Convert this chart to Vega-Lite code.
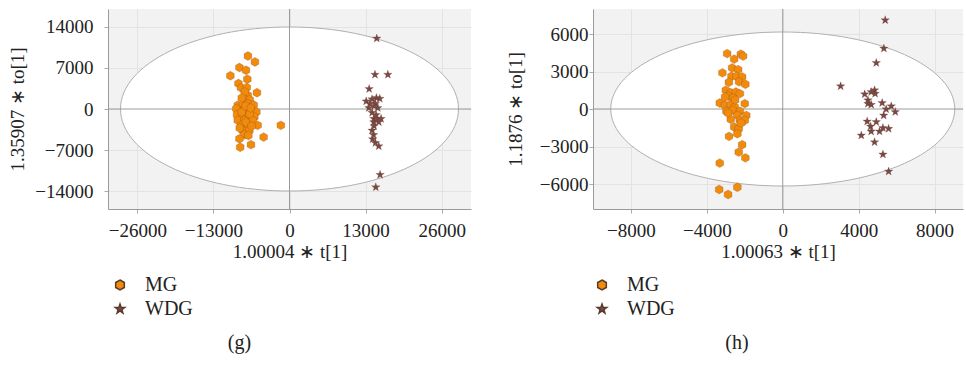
{
  "$schema": "https://vega.github.io/schema/vega-lite/v6.json",
  "padding": 8,
  "config": {
    "font": "Liberation Serif",
    "view": {"stroke": null, "fill": "#f2f2f2"},
    "axis": {"labelFont": "Liberation Serif", "titleFont": "Liberation Serif", "labelFontSize": 19, "titleFontSize": 19, "titleFontWeight": "normal", "labelColor": "#222222", "titleColor": "#222222", "domainColor": "#9a9a9a", "tickColor": "#aaaaaa", "tickSize": 4, "gridColor": "#e3e3e3", "zindex": 1},
    "legend": {"labelFont": "Liberation Serif", "labelFontSize": 20, "labelColor": "#222222", "symbolSize": 100, "rowPadding": 4, "labelOffset": 15},
    "title": {"font": "Liberation Serif", "fontSize": 20, "fontWeight": "normal", "color": "#222222"},
    "concat": {"spacing": 34}
  },
  "hconcat": [
    {
      "width": 363,
      "height": 200,
      "title": {"text": "(g)", "orient": "bottom", "anchor": "middle", "dx": -50, "offset": 14},
      "layer": [
        {
          "data": {"values": [{"t": 0, "to": 0}]},
          "mark": {"type": "point", "shape": "M-1,0C-1,-0.268,-0.552,-0.4852,0,-0.4852C0.552,-0.4852,1,-0.268,1,0C1,0.268,0.552,0.4852,0,0.4852C-0.552,0.4852,-1,0.268,-1,0Z", "size": 114244, "filled": true, "fill": "#ffffff", "stroke": "#b0b0b0", "strokeWidth": 1, "opacity": 1},
          "encoding": {
            "x": {"field": "t", "type": "quantitative", "scale": {"domain": [-31000, 31000], "nice": false, "zero": false}},
            "y": {"field": "to", "type": "quantitative", "scale": {"domain": [-17000, 17000], "nice": false, "zero": false}}
          }
        },
        {
          "data": {"values": [{"t": 0}]},
          "mark": {"type": "rule", "color": "#9a9a9a", "strokeWidth": 1},
          "encoding": {"x": {"field": "t", "type": "quantitative", "scale": {"domain": [-31000, 31000], "nice": false, "zero": false}}}
        },
        {
          "data": {"values": [{"to": 0}]},
          "mark": {"type": "rule", "color": "#9a9a9a", "strokeWidth": 1},
          "encoding": {"y": {"field": "to", "type": "quantitative", "scale": {"domain": [-17000, 17000], "nice": false, "zero": false}}}
        },
        {
          "data": {"values": [
            {"group": "MG", "t": -7100, "to": 9000},
            {"group": "MG", "t": -5900, "to": 8000},
            {"group": "MG", "t": -10100, "to": 5650},
            {"group": "MG", "t": -8550, "to": 7050},
            {"group": "MG", "t": -7430, "to": 6600},
            {"group": "MG", "t": -7200, "to": 5070},
            {"group": "MG", "t": -8720, "to": 4320},
            {"group": "MG", "t": -8280, "to": 3600},
            {"group": "MG", "t": -7300, "to": 3670},
            {"group": "MG", "t": -5560, "to": 2770},
            {"group": "MG", "t": -7140, "to": 2340},
            {"group": "MG", "t": -7700, "to": 1700},
            {"group": "MG", "t": -6800, "to": 1570},
            {"group": "MG", "t": -8840, "to": 630},
            {"group": "MG", "t": -7990, "to": 730},
            {"group": "MG", "t": -7140, "to": 900},
            {"group": "MG", "t": -6120, "to": 680},
            {"group": "MG", "t": -8550, "to": -220},
            {"group": "MG", "t": -7700, "to": -50},
            {"group": "MG", "t": -6580, "to": -220},
            {"group": "MG", "t": -5660, "to": -510},
            {"group": "MG", "t": -9100, "to": 50},
            {"group": "MG", "t": -8960, "to": -970},
            {"group": "MG", "t": -7990, "to": -1080},
            {"group": "MG", "t": -7020, "to": -1080},
            {"group": "MG", "t": -6000, "to": -1370},
            {"group": "MG", "t": -8840, "to": -1930},
            {"group": "MG", "t": -7700, "to": -1930},
            {"group": "MG", "t": -6290, "to": -1930},
            {"group": "MG", "t": -8280, "to": -2780},
            {"group": "MG", "t": -7140, "to": -2780},
            {"group": "MG", "t": -5440, "to": -2780},
            {"group": "MG", "t": -7990, "to": -3640},
            {"group": "MG", "t": -6850, "to": -3640},
            {"group": "MG", "t": -7700, "to": -4390},
            {"group": "MG", "t": -7020, "to": -4490},
            {"group": "MG", "t": -8550, "to": -5070},
            {"group": "MG", "t": -4420, "to": -4780},
            {"group": "MG", "t": -6580, "to": -6060},
            {"group": "MG", "t": -8420, "to": -6490},
            {"group": "MG", "t": -1480, "to": -2780},
            {"group": "MG", "t": -8160, "to": -510},
            {"group": "MG", "t": -7480, "to": 510},
            {"group": "MG", "t": -6800, "to": -850},
            {"group": "MG", "t": -8500, "to": -3240},
            {"group": "MG", "t": -7480, "to": -2220},
            {"group": "MG", "t": -6630, "to": 170},
            {"group": "MG", "t": -7650, "to": 2900},
            {"group": "MG", "t": -8160, "to": 1880},
            {"group": "MG", "t": -6460, "to": -2900},
            {"group": "WDG", "t": 14900, "to": 12000},
            {"group": "WDG", "t": 14600, "to": 5850},
            {"group": "WDG", "t": 16800, "to": 5850},
            {"group": "WDG", "t": 13600, "to": 3400},
            {"group": "WDG", "t": 13100, "to": 1310},
            {"group": "WDG", "t": 14100, "to": 1660},
            {"group": "WDG", "t": 14840, "to": 1880},
            {"group": "WDG", "t": 15420, "to": 1760},
            {"group": "WDG", "t": 13720, "to": 900},
            {"group": "WDG", "t": 14670, "to": 900},
            {"group": "WDG", "t": 13550, "to": 170},
            {"group": "WDG", "t": 15080, "to": 170},
            {"group": "WDG", "t": 14110, "to": -630},
            {"group": "WDG", "t": 14400, "to": -1660},
            {"group": "WDG", "t": 14960, "to": -1660},
            {"group": "WDG", "t": 15640, "to": -1660},
            {"group": "WDG", "t": 14400, "to": -2220},
            {"group": "WDG", "t": 15250, "to": -2220},
            {"group": "WDG", "t": 14110, "to": -3640},
            {"group": "WDG", "t": 14360, "to": -4390},
            {"group": "WDG", "t": 14200, "to": -5120},
            {"group": "WDG", "t": 14670, "to": -5750},
            {"group": "WDG", "t": 15250, "to": -6320},
            {"group": "WDG", "t": 15470, "to": -11180},
            {"group": "WDG", "t": 14740, "to": -13300},
            {"group": "WDG", "t": 14450, "to": 510},
            {"group": "WDG", "t": 14790, "to": -1020},
            {"group": "WDG", "t": 14450, "to": -2900}
          ]},
          "mark": {"type": "point", "filled": true, "size": 80, "opacity": 1, "stroke": "#5a3a2a", "strokeOpacity": 0.35, "strokeWidth": 0.6},
          "encoding": {
            "x": {"field": "t", "type": "quantitative", "title": "1.00004 ∗ t[1]",
              "scale": {"domain": [-31000, 31000], "nice": false, "zero": false},
              "axis": {"values": [-26000, -13000, 0, 13000, 26000], "format": "d", "labelPadding": 8, "titlePadding": 2}},
            "y": {"field": "to", "type": "quantitative", "title": "1.35907 ∗ to[1]",
              "scale": {"domain": [-17000, 17000], "nice": false, "zero": false},
              "axis": {"values": [-14000, -7000, 0, 7000, 14000], "format": "d", "labelPadding": 11, "titlePadding": 7}},
            "color": {"field": "group", "type": "nominal",
              "scale": {"domain": ["MG", "WDG"], "range": ["#f28a0c", "#7b4943"]},
              "legend": {"orient": "none", "legendX": 2, "legendY": 266, "direction": "vertical", "title": null}},
            "shape": {"field": "group", "type": "nominal",
              "scale": {"domain": ["MG", "WDG"], "range": ["M0,-1L0.866,-0.5L0.866,0.5L0,1L-0.866,0.5L-0.866,-0.5Z", "M0,-1L0.235,-0.324L0.951,-0.309L0.38,0.124L0.588,0.809L0,0.4L-0.588,0.809L-0.38,0.124L-0.951,-0.309L-0.235,-0.324Z"]},
              "legend": {"orient": "none", "legendX": 2, "legendY": 266, "direction": "vertical", "title": null}}
          }
        }
      ]
    },
    {
      "width": 370,
      "height": 200,
      "title": {"text": "(h)", "orient": "bottom", "anchor": "middle", "dx": -41, "offset": 14},
      "layer": [
        {
          "data": {"values": [{"t": 0, "to": 0}]},
          "mark": {"type": "point", "shape": "M-1,0C-1,-0.2473,-0.552,-0.4477,0,-0.4477C0.552,-0.4477,1,-0.2473,1,0C1,0.2473,0.552,0.4477,0,0.4477C-0.552,0.4477,-1,0.2473,-1,0Z", "size": 118336, "filled": true, "fill": "#ffffff", "stroke": "#b0b0b0", "strokeWidth": 1, "opacity": 1},
          "encoding": {
            "x": {"field": "t", "type": "quantitative", "scale": {"domain": [-10000, 9500], "nice": false, "zero": false}},
            "y": {"field": "to", "type": "quantitative", "scale": {"domain": [-8000, 8000], "nice": false, "zero": false}}
          }
        },
        {
          "data": {"values": [{"t": 0}]},
          "mark": {"type": "rule", "color": "#9a9a9a", "strokeWidth": 1},
          "encoding": {"x": {"field": "t", "type": "quantitative", "scale": {"domain": [-10000, 9500], "nice": false, "zero": false}}}
        },
        {
          "data": {"values": [{"to": 0}]},
          "mark": {"type": "rule", "color": "#9a9a9a", "strokeWidth": 1},
          "encoding": {"y": {"field": "to", "type": "quantitative", "scale": {"domain": [-8000, 8000], "nice": false, "zero": false}}}
        },
        {
          "data": {"values": [
            {"group": "MG", "t": -2930, "to": 4430},
            {"group": "MG", "t": -2560, "to": 3990},
            {"group": "MG", "t": -2210, "to": 4390},
            {"group": "MG", "t": -2090, "to": 4230},
            {"group": "MG", "t": -2670, "to": 3290},
            {"group": "MG", "t": -2350, "to": 3150},
            {"group": "MG", "t": -3180, "to": 2890},
            {"group": "MG", "t": -2700, "to": 2620},
            {"group": "MG", "t": -2440, "to": 2620},
            {"group": "MG", "t": -2140, "to": 2570},
            {"group": "MG", "t": -2840, "to": 2140},
            {"group": "MG", "t": -2300, "to": 2170},
            {"group": "MG", "t": -1970, "to": 1980},
            {"group": "MG", "t": -3000, "to": 1500},
            {"group": "MG", "t": -2740, "to": 1310},
            {"group": "MG", "t": -2470, "to": 1360},
            {"group": "MG", "t": -2260, "to": 1230},
            {"group": "MG", "t": -2880, "to": 1040},
            {"group": "MG", "t": -2620, "to": 880},
            {"group": "MG", "t": -3320, "to": 480},
            {"group": "MG", "t": -3050, "to": 300},
            {"group": "MG", "t": -2740, "to": 380},
            {"group": "MG", "t": -2530, "to": 160},
            {"group": "MG", "t": -2000, "to": 430},
            {"group": "MG", "t": -2970, "to": -180},
            {"group": "MG", "t": -2620, "to": -100},
            {"group": "MG", "t": -2260, "to": -180},
            {"group": "MG", "t": -2390, "to": -510},
            {"group": "MG", "t": -1920, "to": -510},
            {"group": "MG", "t": -2740, "to": -830},
            {"group": "MG", "t": -2260, "to": -910},
            {"group": "MG", "t": -2000, "to": -910},
            {"group": "MG", "t": -2560, "to": -1440},
            {"group": "MG", "t": -2320, "to": -1580},
            {"group": "MG", "t": -2390, "to": -1980},
            {"group": "MG", "t": -2830, "to": -2190},
            {"group": "MG", "t": -2140, "to": -2860},
            {"group": "MG", "t": -2320, "to": -3450},
            {"group": "MG", "t": -1970, "to": -3910},
            {"group": "MG", "t": -3320, "to": -4330},
            {"group": "MG", "t": -2390, "to": -6260},
            {"group": "MG", "t": -3350, "to": -6440},
            {"group": "MG", "t": -2880, "to": -6840},
            {"group": "MG", "t": -2510, "to": 720},
            {"group": "MG", "t": -2880, "to": -320},
            {"group": "MG", "t": -2190, "to": -1120},
            {"group": "MG", "t": -3040, "to": 960},
            {"group": "WDG", "t": 5400, "to": 7110},
            {"group": "WDG", "t": 5330, "to": 4840},
            {"group": "WDG", "t": 4930, "to": 3690},
            {"group": "WDG", "t": 3050, "to": 1820},
            {"group": "WDG", "t": 4320, "to": 1180},
            {"group": "WDG", "t": 4840, "to": 1500},
            {"group": "WDG", "t": 4870, "to": 1230},
            {"group": "WDG", "t": 4490, "to": 700},
            {"group": "WDG", "t": 4660, "to": 340},
            {"group": "WDG", "t": 5240, "to": 480},
            {"group": "WDG", "t": 5720, "to": 220},
            {"group": "WDG", "t": 5450, "to": -20},
            {"group": "WDG", "t": 5930, "to": -240},
            {"group": "WDG", "t": 5320, "to": -510},
            {"group": "WDG", "t": 4450, "to": -990},
            {"group": "WDG", "t": 4930, "to": -1040},
            {"group": "WDG", "t": 4630, "to": -1390},
            {"group": "WDG", "t": 5280, "to": -1520},
            {"group": "WDG", "t": 5580, "to": -1580},
            {"group": "WDG", "t": 4660, "to": -1790},
            {"group": "WDG", "t": 5100, "to": -1790},
            {"group": "WDG", "t": 4140, "to": -2110},
            {"group": "WDG", "t": 4840, "to": -2650},
            {"group": "WDG", "t": 5280, "to": -3630},
            {"group": "WDG", "t": 5580, "to": -5000},
            {"group": "WDG", "t": 4490, "to": 425},
            {"group": "WDG", "t": 4660, "to": 1360}
          ]},
          "mark": {"type": "point", "filled": true, "size": 80, "opacity": 1, "stroke": "#5a3a2a", "strokeOpacity": 0.35, "strokeWidth": 0.6},
          "encoding": {
            "x": {"field": "t", "type": "quantitative", "title": "1.00063 ∗ t[1]",
              "scale": {"domain": [-10000, 9500], "nice": false, "zero": false},
              "axis": {"values": [-8000, -4000, 0, 4000, 8000], "format": "d", "labelPadding": 8, "titlePadding": 2}},
            "y": {"field": "to", "type": "quantitative", "title": "1.1876 ∗ to[1]",
              "scale": {"domain": [-8000, 8000], "nice": false, "zero": false},
              "axis": {"values": [-6000, -3000, 0, 3000, 6000], "format": "d", "labelPadding": 1, "titlePadding": 14}},
            "color": {"field": "group", "type": "nominal",
              "scale": {"domain": ["MG", "WDG"], "range": ["#f28a0c", "#7b4943"]},
              "legend": {"orient": "none", "legendX": -1, "legendY": 266, "direction": "vertical", "title": null}},
            "shape": {"field": "group", "type": "nominal",
              "scale": {"domain": ["MG", "WDG"], "range": ["M0,-1L0.866,-0.5L0.866,0.5L0,1L-0.866,0.5L-0.866,-0.5Z", "M0,-1L0.235,-0.324L0.951,-0.309L0.38,0.124L0.588,0.809L0,0.4L-0.588,0.809L-0.38,0.124L-0.951,-0.309L-0.235,-0.324Z"]},
              "legend": {"orient": "none", "legendX": -1, "legendY": 266, "direction": "vertical", "title": null}}
          }
        }
      ]
    }
  ],
  "resolve": {
    "scale": {"color": "independent", "shape": "independent"}
  }
}
